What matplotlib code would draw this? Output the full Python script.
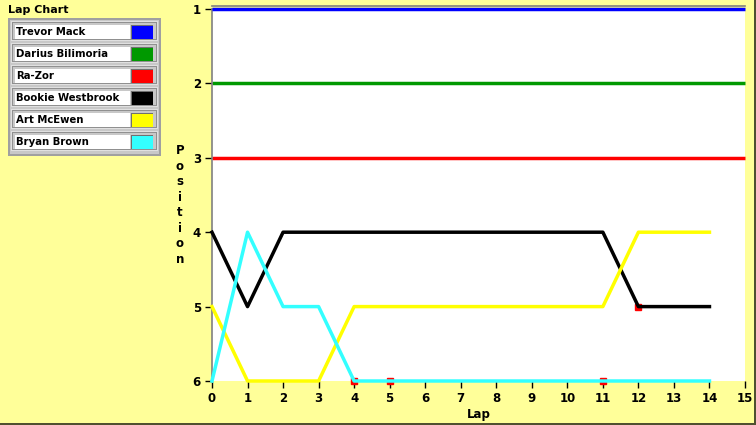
import matplotlib.pyplot as plt
from matplotlib.patches import Rectangle

drivers = ["Trevor Mack", "Darius Bilimoria", "Ra-Zor", "Bookie Westbrook", "Art McEwen", "Bryan Brown"]
colors = ["#0000FF", "#009900", "#FF0000", "#000000", "#FFFF00", "#33FFFF"]

laps_full = list(range(0, 16))
laps = list(range(0, 15))
trevor = [1] * 16
darius = [2] * 16
razor = [3] * 16
bookie = [4, 5, 4, 4, 4, 4, 4, 4, 4, 4, 4, 4, 5, 5, 5]
art = [5, 6, 6, 6, 5, 5, 5, 5, 5, 5, 5, 5, 4, 4, 4]
bryan = [6, 4, 5, 5, 6, 6, 6, 6, 6, 6, 6, 6, 6, 6, 6]

# little red blips left over under the other traces
blip_x = [4, 5, 11, 12]
blip_y = [6, 6, 6, 5]

bg = "#FFFF99"
W, H = 756, 425

fig = plt.figure(figsize=(7.56, 4.25), dpi=100, facecolor=bg)
ax = fig.add_axes([212 / W, 1 - 381 / H, 533 / W, 372 / H])
ax.set_facecolor("white")

lw = 2.5
ax.plot(laps_full, trevor, c=colors[0], lw=lw, solid_capstyle="butt", clip_on=False, zorder=3)
ax.plot(laps_full, darius, c=colors[1], lw=lw, solid_capstyle="butt", clip_on=False)
ax.plot(laps_full, razor, c=colors[2], lw=lw, solid_capstyle="butt", clip_on=False)
ax.plot(blip_x, blip_y, ls="none", marker="s", ms=4, c="#FF0000", zorder=2, clip_on=False)
ax.plot(laps, bookie, c=colors[3], lw=lw, zorder=3, clip_on=False)
ax.plot(laps, art, c=colors[4], lw=lw, zorder=3, clip_on=False)
ax.plot(laps, bryan, c=colors[5], lw=lw, zorder=4, clip_on=False)

ax.set_xlim(0, 15)
ax.set_ylim(6, 1)
ax.set_xticks(range(0, 16))
ax.set_yticks(range(1, 7))
for s in ["right", "bottom"]:
    ax.spines[s].set_visible(False)
for s in ["left", "top"]:
    ax.spines[s].set_color("#808080")
    ax.spines[s].set_linewidth(1.2)
ax.spines["top"].set_position(("outward", 2))
ax.tick_params(axis="both", length=5, width=1, color="black", labelsize=8.5, pad=3)
for lbl in ax.get_xticklabels() + ax.get_yticklabels():
    lbl.set_fontweight("bold")
ax.set_xlabel("Lap", fontsize=8.5, fontweight="bold", labelpad=2)
fig.text(180 / W, 1 - 205 / H, "\n".join("Position"), ha="center", va="center",
         fontsize=8.5, fontweight="bold", linespacing=1.25)

# legend panel, drawn by hand to get the bevelled look
fig.text(8 / W, 1 - 10 / H, "Lap Chart", ha="left", va="center", fontsize=8, fontweight="bold")


def box(x, y, w, h, fc, ec="none", lw=0):
    fig.patches.append(Rectangle((x / W, 1 - (y + h) / H), w / W, h / H, transform=fig.transFigure,
                                 fc=fc, ec=ec, lw=lw))


box(8, 18, 153, 138, "#A0A0A0")
box(10, 20, 149, 134, "#C8C8C8")
for i, name in enumerate(drivers):
    y0 = 20 + 22 * i
    box(11, y0 + 1, 147, 20, "#E0E0E0")
    box(12, y0 + 2, 145, 18, "#909090")
    box(13, y0 + 3, 143, 16, "#C8C8C8")
    box(15, y0 + 5, 115, 14, "white")
    box(131, y0 + 5, 22, 14, "#707070")
    box(132, y0 + 6, 21, 13, colors[i])
    fig.text(16 / W, 1 - (y0 + 12) / H, name, ha="left", va="center", fontsize=7.3, fontweight="bold")

# dark frame along right and bottom edges
box(754, 0, 2, 425, "#505030")
box(0, 423, 756, 2, "#505030")

fig.savefig("out.png", dpi=100, facecolor=bg)
